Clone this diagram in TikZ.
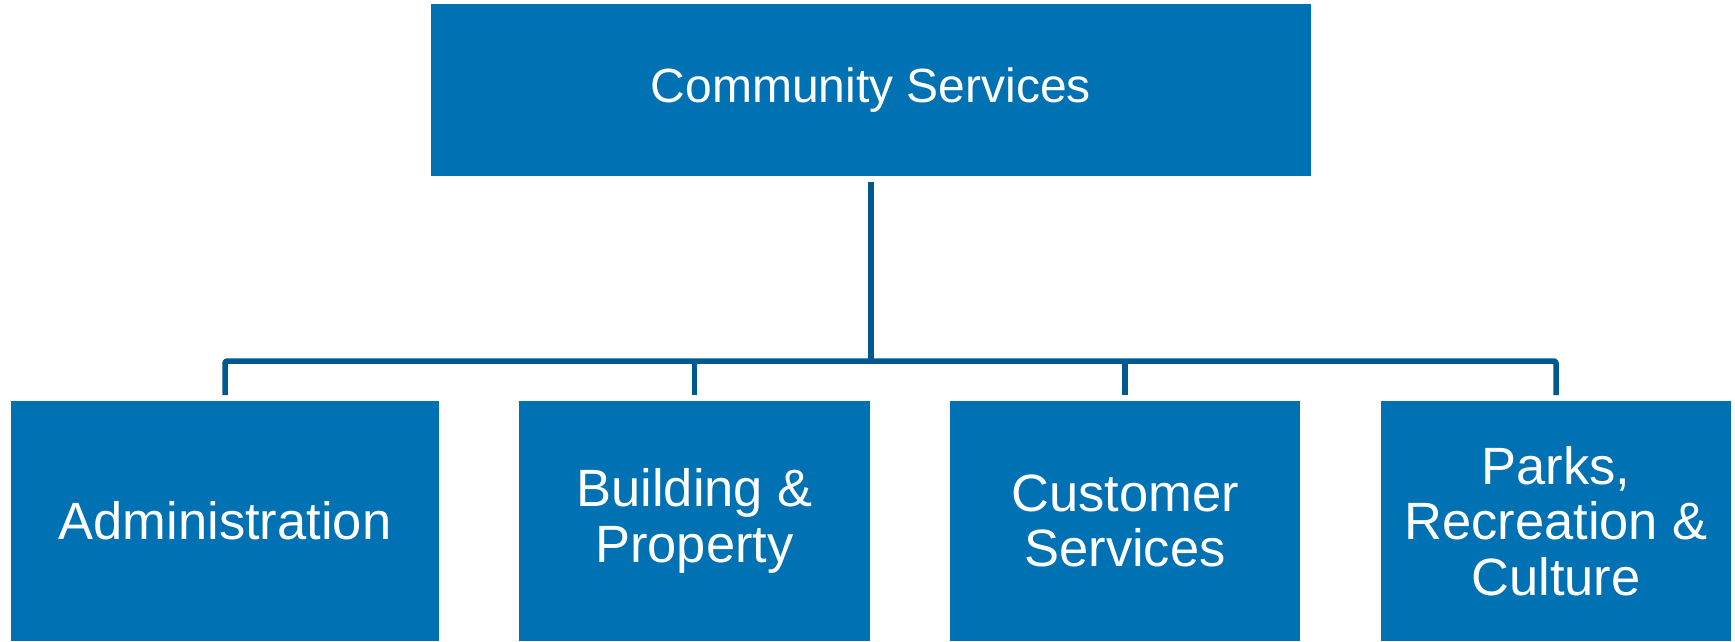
\documentclass[tikz,border=0pt]{standalone}
\usepackage{fontspec}
\setmainfont{Liberation Sans}
\definecolor{boxblue}{RGB}{0,113,178}
\definecolor{lineblue}{RGB}{0,89,143}
\begin{document}
\begin{tikzpicture}[x=1pt,y=1pt,
  orgbox/.style={fill=boxblue, draw=none, inner sep=0pt, outer sep=0pt,
    text=white, align=center,
    font=\fontsize{52.5}{55.5}\selectfont},
  conn/.style={draw=lineblue, line width=5.5pt, line join=round}]
\useasboundingbox (0,0) rectangle (1735,641);
\node[orgbox, minimum width=880pt, minimum height=172pt, font=\fontsize{48}{52}\selectfont] (top) at (871,551) {Community Services};
\node[orgbox, minimum width=428pt, minimum height=240pt] (admin) at (225,120) {Administration};
\node[orgbox, minimum width=351pt, minimum height=240pt] (build) at (694.5,120) {Building \&\\Property};
\node[orgbox, minimum width=350pt, minimum height=240pt] (cust) at (1125,120) {Customer\\Services};
\node[orgbox, minimum width=350pt, minimum height=240pt] (parks) at (1556,120) {Parks,\\Recreation \&\\Culture};
\coordinate (bus) at (871,280);
\draw[conn] ([yshift=-6pt]top.south) -- (top.south |- bus);
\draw[conn, rounded corners=2pt] ([yshift=6pt]admin.north) -- (admin.north |- bus) -- (parks.north |- bus) -- ([yshift=6pt]parks.north);
\draw[conn] (build.north |- bus) -- ([yshift=6pt]build.north);
\draw[conn] (cust.north |- bus) -- ([yshift=6pt]cust.north);
\end{tikzpicture}
\end{document}
